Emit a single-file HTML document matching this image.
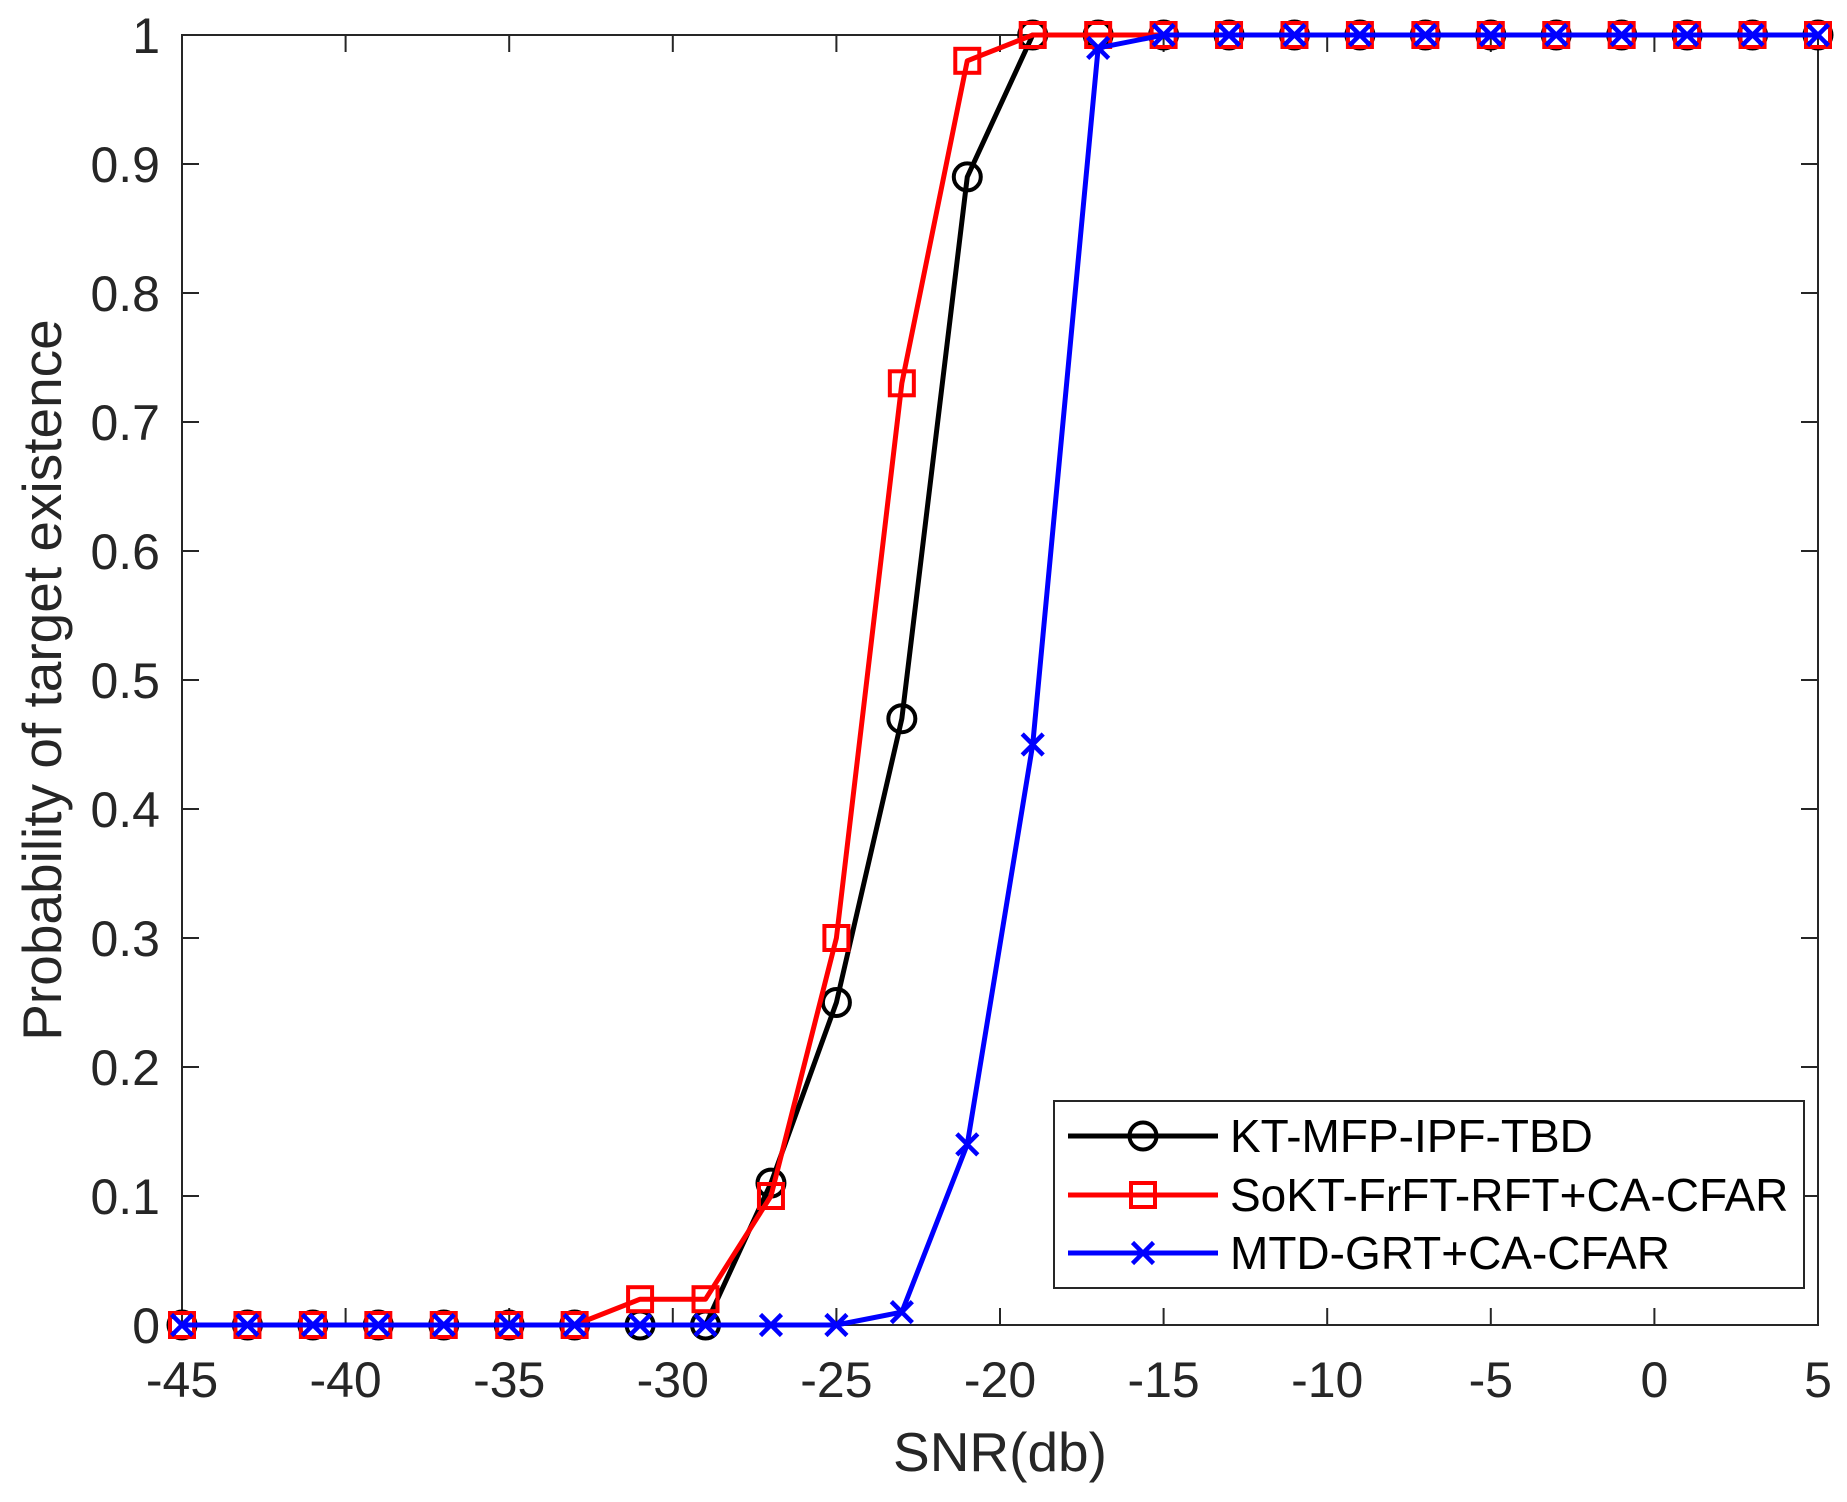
<!DOCTYPE html>
<html>
<head>
<meta charset="utf-8">
<style>
html,body{margin:0;padding:0;background:#fff;}
svg{display:block;}
text{font-family:"Liberation Sans",Arial,sans-serif;fill:#262626;}
</style>
</head>
<body>
<svg width="1847" height="1502" viewBox="0 0 1847 1502" xmlns="http://www.w3.org/2000/svg">
<defs>
  <marker id="mc" markerUnits="userSpaceOnUse" markerWidth="40" markerHeight="40" refX="20" refY="20" overflow="visible">
    <circle cx="20" cy="20" r="13.5" fill="none" stroke="#000" stroke-width="4"/>
  </marker>
  <marker id="ms" markerUnits="userSpaceOnUse" markerWidth="40" markerHeight="40" refX="20" refY="20" overflow="visible">
    <rect x="8" y="8" width="24" height="24" fill="none" stroke="#ff0000" stroke-width="4"/>
  </marker>
  <marker id="mx" markerUnits="userSpaceOnUse" markerWidth="40" markerHeight="40" refX="20" refY="20" overflow="visible">
    <path d="M9.5 9.5 L30.5 30.5 M30.5 9.5 L9.5 30.5" fill="none" stroke="#0000ff" stroke-width="4.5"/>
  </marker>
</defs>

<rect x="0" y="0" width="1847" height="1502" fill="#fff"/>

<!-- axes box -->
<g stroke="#262626" stroke-width="2" fill="none">
  <rect x="182" y="35" width="1636" height="1290"/>
  <path d="M182 1325v-17 M345.6 1325v-17 M509.2 1325v-17 M672.8 1325v-17 M836.4 1325v-17 M1000 1325v-17 M1163.6 1325v-17 M1327.2 1325v-17 M1490.8 1325v-17 M1654.4 1325v-17 M1818 1325v-17"/>
  <path d="M182 35v17 M345.6 35v17 M509.2 35v17 M672.8 35v17 M836.4 35v17 M1000 35v17 M1163.6 35v17 M1327.2 35v17 M1490.8 35v17 M1654.4 35v17 M1818 35v17"/>
  <path d="M182 1325h17 M182 1196h17 M182 1067h17 M182 938h17 M182 809h17 M182 680h17 M182 551h17 M182 422h17 M182 293h17 M182 164h17 M182 35h17"/>
  <path d="M1818 1325h-17 M1818 1196h-17 M1818 1067h-17 M1818 938h-17 M1818 809h-17 M1818 680h-17 M1818 551h-17 M1818 422h-17 M1818 293h-17 M1818 164h-17 M1818 35h-17"/>
</g>

<!-- y tick labels -->
<g font-size="50" text-anchor="end">
  <text x="160" y="1343">0</text>
  <text x="160" y="1214">0.1</text>
  <text x="160" y="1085">0.2</text>
  <text x="160" y="956">0.3</text>
  <text x="160" y="827">0.4</text>
  <text x="160" y="698">0.5</text>
  <text x="160" y="569">0.6</text>
  <text x="160" y="440">0.7</text>
  <text x="160" y="311">0.8</text>
  <text x="160" y="182">0.9</text>
  <text x="160" y="53">1</text>
</g>

<!-- x tick labels -->
<g font-size="50" text-anchor="middle">
  <text x="182" y="1397">-45</text>
  <text x="345.6" y="1397">-40</text>
  <text x="509.2" y="1397">-35</text>
  <text x="672.8" y="1397">-30</text>
  <text x="836.4" y="1397">-25</text>
  <text x="1000" y="1397">-20</text>
  <text x="1163.6" y="1397">-15</text>
  <text x="1327.2" y="1397">-10</text>
  <text x="1490.8" y="1397">-5</text>
  <text x="1654.4" y="1397">0</text>
  <text x="1818" y="1397">5</text>
</g>

<!-- axis labels -->
<text x="1000" y="1471" font-size="55" text-anchor="middle">SNR(db)</text>
<text transform="translate(61,680) rotate(-90)" font-size="55" text-anchor="middle">Probability of target existence</text>

<!-- series: black circles -->
<polyline fill="none" stroke="#000" stroke-width="5" stroke-linejoin="round"
  marker-start="url(#mc)" marker-mid="url(#mc)" marker-end="url(#mc)"
  points="182,1325 247.44,1325 312.88,1325 378.32,1325 443.76,1325 509.2,1325 574.64,1325 640.08,1325 705.52,1325 770.96,1183.1 836.4,1002.5 901.84,718.7 967.28,176.9 1032.72,35 1098.16,35 1163.6,35 1229.04,35 1294.48,35 1359.92,35 1425.36,35 1490.8,35 1556.24,35 1621.68,35 1687.12,35 1752.56,35 1818,35"/>

<!-- series: red squares -->
<polyline fill="none" stroke="#ff0000" stroke-width="5" stroke-linejoin="round"
  marker-start="url(#ms)" marker-mid="url(#ms)" marker-end="url(#ms)"
  points="182,1325 247.44,1325 312.88,1325 378.32,1325 443.76,1325 509.2,1325 574.64,1325 640.08,1299.2 705.52,1299.2 770.96,1196 836.4,938 901.84,383.3 967.28,60.8 1032.72,35 1098.16,35 1163.6,35 1229.04,35 1294.48,35 1359.92,35 1425.36,35 1490.8,35 1556.24,35 1621.68,35 1687.12,35 1752.56,35 1818,35"/>

<!-- series: blue x -->
<polyline fill="none" stroke="#0000ff" stroke-width="5" stroke-linejoin="round"
  marker-start="url(#mx)" marker-mid="url(#mx)" marker-end="url(#mx)"
  points="182,1325 247.44,1325 312.88,1325 378.32,1325 443.76,1325 509.2,1325 574.64,1325 640.08,1325 705.52,1325 770.96,1325 836.4,1325 901.84,1312.1 967.28,1144.4 1032.72,744.5 1098.16,47.9 1163.6,35 1229.04,35 1294.48,35 1359.92,35 1425.36,35 1490.8,35 1556.24,35 1621.68,35 1687.12,35 1752.56,35 1818,35"/>

<!-- legend -->
<rect x="1054" y="1101" width="750" height="187" fill="#fff" stroke="#262626" stroke-width="2"/>
<g>
  <line x1="1068" y1="1136" x2="1218" y2="1136" stroke="#000" stroke-width="5"/>
  <circle cx="1143" cy="1136" r="13.5" fill="none" stroke="#000" stroke-width="4"/>
  <text x="1230" y="1152" font-size="46" style="fill:#000">KT-MFP-IPF-TBD</text>

  <line x1="1068" y1="1195" x2="1218" y2="1195" stroke="#ff0000" stroke-width="5"/>
  <rect x="1131" y="1183" width="24" height="24" fill="none" stroke="#ff0000" stroke-width="4"/>
  <text x="1230" y="1211" font-size="46" style="fill:#000">SoKT-FrFT-RFT+CA-CFAR</text>

  <line x1="1068" y1="1253" x2="1218" y2="1253" stroke="#0000ff" stroke-width="5"/>
  <path d="M1132.5 1242.5 L1153.5 1263.5 M1153.5 1242.5 L1132.5 1263.5" stroke="#0000ff" stroke-width="4.5" fill="none"/>
  <text x="1230" y="1269" font-size="46" style="fill:#000">MTD-GRT+CA-CFAR</text>
</g>
</svg>
</body>
</html>
